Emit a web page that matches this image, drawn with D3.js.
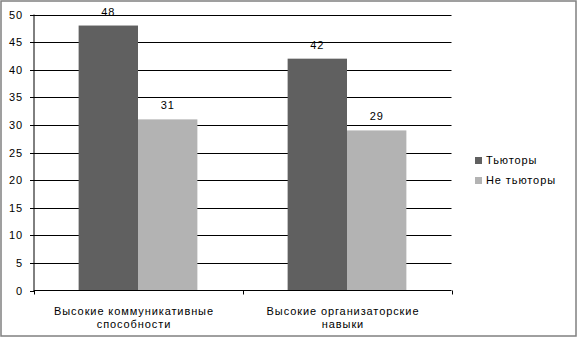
<!DOCTYPE html>
<html><head><meta charset="utf-8">
<script src="https://cdn.jsdelivr.net/npm/d3@7"></script>
<style>html,body{margin:0;padding:0;background:#fff}svg{display:block}</style>
</head><body>
<svg id="c" width="578" height="338"></svg>
<script>
const categories = [["Высокие коммуникативные","способности"],["Высокие организаторские","навыки"]];
const seriesNames = ["Тьюторы","Не тьюторы"];
const tutors = [48, 42];
const nonTutors = [31, 29];
const yTicks = [0,5,10,15,20,25,30,35,40,45,50];
const colors = ["#606060","#b3b3b3"];

const svg = d3.select("#c");
const font = "Liberation Sans, Arial, sans-serif";
const FS = 11, LS = "0.9px";
svg.append("rect").attr("x",1).attr("y",1).attr("width",575).attr("height",335)
  .attr("fill","#fff").attr("stroke","#808080").attr("stroke-width",1.5);

const L=33.5, R=451.5, T=14.5, B=290.5;
const y = d3.scaleLinear().domain([0,50]).range([B,T]);
const x0 = d3.scaleBand().domain(d3.range(categories.length)).range([L,R]).paddingInner(0).paddingOuter(0);
const x1 = d3.scaleBand().domain(d3.range(seriesNames.length)).range([0,x0.bandwidth()]).paddingInner(0).paddingOuter(0.76);

// gridlines
svg.append("g").selectAll("line").data(yTicks.filter(d=>d>0)).join("line")
  .attr("x1",L).attr("x2",R).attr("y1",d=>Math.round(y(d))+0.5).attr("y2",d=>Math.round(y(d))+0.5)
  .attr("stroke","#000").attr("stroke-width",1);

const data = [tutors, nonTutors];
data.forEach((vals,si)=>{
  svg.append("g").selectAll("rect").data(vals).join("rect")
    .attr("x",(d,i)=>x0(i)+x1(si)).attr("width",x1.bandwidth())
    .attr("y",d=>y(d)).attr("height",d=>B-y(d)).attr("fill",colors[si]);
  svg.append("g").selectAll("text").data(vals).join("text")
    .attr("x",(d,i)=>x0(i)+x1(si)+x1.bandwidth()/2).attr("y",d=>y(d)-10)
    .attr("text-anchor","middle").attr("font-family",font).attr("font-size",FS).attr("letter-spacing",LS).text(d=>d);
});

// y axis
const yAxis = d3.axisLeft(y).tickValues(yTicks).tickSize(4).tickPadding(7);
const gy = svg.append("g").attr("transform",`translate(${L},0)`).call(yAxis);
gy.selectAll("text").attr("font-family",font).attr("font-size",FS).attr("letter-spacing",LS).attr("fill","#000");
gy.select(".domain").attr("d",`M0.5,${T}V${B}`).attr("stroke","#000");
gy.selectAll(".tick").attr("transform",d=>`translate(0.5,${Math.round(y(d))+0.5})`);

// x axis
const gx = svg.append("g").attr("transform",`translate(0,${B})`);
gx.append("line").attr("x1",L).attr("x2",R).attr("y1",0).attr("y2",0).attr("stroke","#000");
const bounds = d3.range(categories.length+1).map(i=> i<categories.length ? x0(i) : x0(i-1)+x0.bandwidth());
gx.selectAll(".t").data(bounds).join("line").attr("class","t")
  .attr("x1",d=>Math.round(d)+0.5).attr("x2",d=>Math.round(d)+0.5).attr("y1",0).attr("y2",4).attr("stroke","#000");
categories.forEach((lines,i)=>{
  const cx = x0(i)+x0.bandwidth()/2 - 4;
  const t = gx.append("text").attr("x",cx).attr("y",24.5)
    .attr("text-anchor","middle").attr("font-family",font).attr("font-size",FS).attr("letter-spacing",LS);
  lines.forEach((ln,k)=>t.append("tspan").attr("x",cx).attr("dy",k?13:0).text(ln));
});

// legend
const lg = svg.append("g").attr("transform","translate(475,157)");
seriesNames.forEach((n,i)=>{
  lg.append("rect").attr("x",0).attr("y",i*20).attr("width",7).attr("height",7).attr("fill",colors[i]);
  lg.append("text").attr("x",11).attr("y",i*20+7).attr("font-family",font).attr("font-size",FS).attr("letter-spacing",LS).text(n);
});
</script>
</body></html>
